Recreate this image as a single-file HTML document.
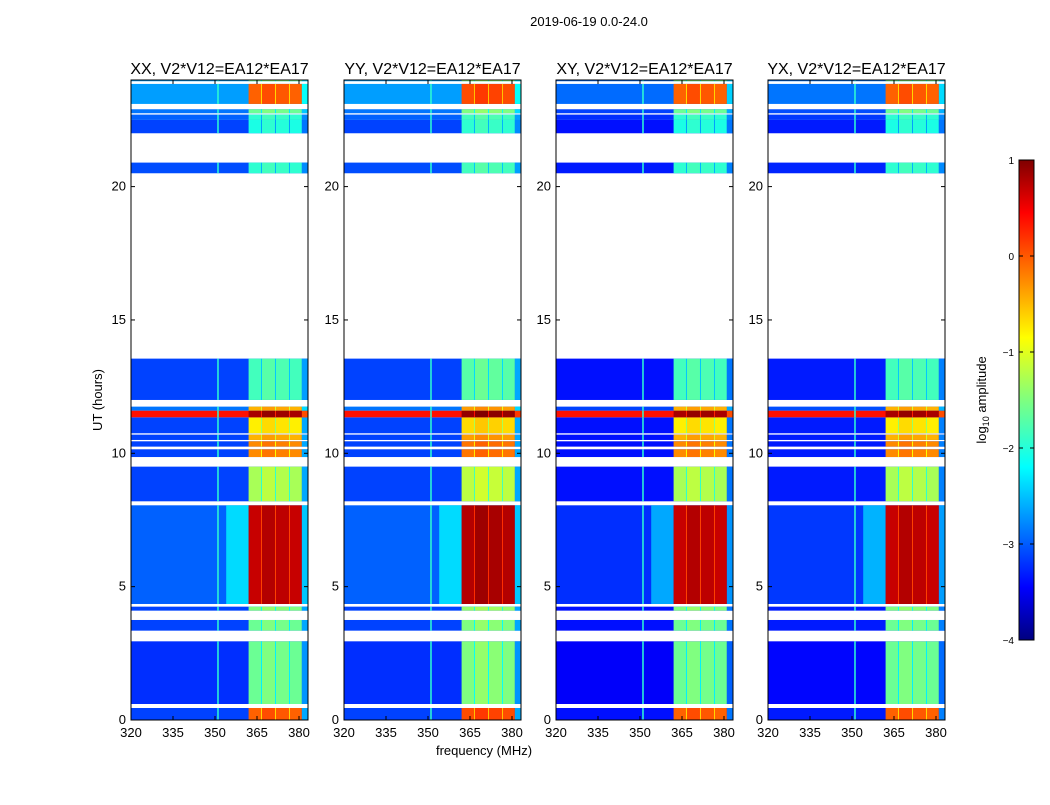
<!DOCTYPE html>
<html><head><meta charset="utf-8"><style>
body{margin:0;background:#fff;font-family:"Liberation Sans",sans-serif}
</style></head><body>
<svg id="fig" width="1050" height="800" xmlns="http://www.w3.org/2000/svg">
<defs>
<linearGradient id="jet" x1="0" y1="1" x2="0" y2="0">
<stop offset="0" stop-color="#00007f"/><stop offset="0.11" stop-color="#0000ff"/>
<stop offset="0.36" stop-color="#00ffff"/><stop offset="0.5" stop-color="#7fff7f"/>
<stop offset="0.63" stop-color="#ffff00"/><stop offset="0.89" stop-color="#ff0000"/>
<stop offset="1" stop-color="#7f0000"/></linearGradient>
</defs>
<text x="589" y="26" font-size="13" text-anchor="middle">2019-06-19 0.0-24.0</text>
<text transform="translate(102,400) rotate(-90)" font-size="13" text-anchor="middle">UT (hours)</text>
<text x="484" y="755" font-size="13" text-anchor="middle">frequency (MHz)</text>
<g id="panels"></g>
<g>
<rect x="1019" y="160" width="15" height="480" fill="url(#jet)" stroke="#000" stroke-width="1"/>
<g id="cbt"></g>
<text transform="translate(986,400) rotate(-90)" font-size="13" text-anchor="middle">log<tspan font-size="9" dy="3">10</tspan><tspan dy="-3"> amplitude</tspan></text>
</g>
</svg>
<script>
const panelTitles=["XX, V2*V12=EA12*EA17","YY, V2*V12=EA12*EA17","XY, V2*V12=EA12*EA17","YX, V2*V12=EA12*EA17"];
const panelX=[131,344,556,768];
const panelBgOffset=[0,0,-0.25,-0.2];
const panelHotOffset=[0,0.1,0,0];
// segments: start hour, end hour, background log amp, hot-band log amp
const segStart=[0,0.6,3.35,4.1,4.35,8.2,9.86,10.25,10.5,10.75,11.35,11.6,12.0,20.5,22.0,22.5,22.75,23.1,23.95];
const segEnd  =[0.45,2.95,3.75,4.25,8.05,9.5,10.15,10.45,10.7,11.35,11.6,11.75,13.55,20.9,22.5,22.7,22.9,23.85,24.0];
const segBg   =[-3.05,-3.15,-3.05,-3.05,-2.9,-3.05,-3.05,-3.05,-3.05,-3.05,0.3,-2.8,-3.05,-3.0,-3.05,-2.9,-2.8,-2.6,-2.6];
const segHot  =[-0.1,-1.6,-1.6,-1.5,0.65,-1.3,-0.3,-0.3,-0.5,-0.8,0.8,-0.5,-1.8,-1.9,-2.0,-1.9,-1.6,-0.1,-1.5];
const subStart=[362,366.6,371.6,376.6];
const subEnd=[366.6,371.6,376.6,381];
const subVar=[0,0.1,0.05,0];
const xTicks=[320,335,350,365,380];
const yTicks=[0,5,10,15,20];
const cbTicks=[1,0,-1,-2,-3,-4];
const NS="http://www.w3.org/2000/svg";
const Y0=720,PH=26.67,PW=177,FX=2.8,FMIN=320,FMAX=320+PW/FX;
function jet(v){let t=(v+4)/5;t=Math.max(0,Math.min(1,t));
 const r=Math.max(0,Math.min(1,1.5-Math.abs(4*t-3))),g=Math.max(0,Math.min(1,1.5-Math.abs(4*t-2))),b=Math.max(0,Math.min(1,1.5-Math.abs(4*t-1)));
 return `rgb(${Math.round(r*255)},${Math.round(g*255)},${Math.round(b*255)})`;}
function el(tag,attrs,parent){const e=document.createElementNS(NS,tag);for(const k in attrs)e.setAttribute(k,attrs[k]);parent.appendChild(e);return e;}
const root=document.getElementById('panels');
panelX.forEach((px,pi)=>{
 const g=el('g',{},root);
 
 
 const xs=f=>px+(f-FMIN)*FX, ys=h=>Y0-h*PH;
 const hm=el('g',{},g);
 
 
 for(let i=0;i<segStart.length;i++){
  const y1=ys(segEnd[i]),h=ys(segStart[i])-y1;
  const bg=segBg[i]+(segBg[i]<-1?panelBgOffset[pi]:0),hot=segHot[i]+panelHotOffset[pi];
  const r=el('rect',{x:px,y:y1,width:PW,height:h,fill:jet(bg)},hm);
  
  
  if(hot>0 && bg<-1){
   const fr=el('rect',{x:xs(354),y:y1,width:xs(362)-xs(354),height:h,fill:jet(bg+0.6)},hm);
   
   
  }
  const vl=el('rect',{x:xs(350.8),y:y1,width:1.5,height:h,fill:jet(-1.9)},hm);
  
  
  const rs=el('rect',{x:xs(381),y:y1,width:px+PW-xs(381),height:h,fill:jet(Math.min(bg+0.5,hot-0.8))},hm);
  
  
  for(let s=0;s<subStart.length;s++){
   const c=el('rect',{x:xs(subStart[s]),y:y1,width:xs(subEnd[s])-xs(subStart[s]),height:h,fill:jet(hot+subVar[s])},hm);
   
   
   if(s>0){const d=el('rect',{x:xs(subStart[s])-0.5,y:y1,width:1,height:h,fill:jet(hot-0.6)},hm);}
  }
 }
 const fr=el('rect',{x:px,y:80,width:PW,height:640,fill:'none',stroke:'#000','stroke-width':1},g);
 
 
 const t=el('text',{x:px+PW/2,y:74,'font-size':16,'text-anchor':'middle'},g);t.textContent=panelTitles[pi];
 
 
 xTicks.forEach(v=>{const x=xs(v);
  el('line',{x1:x,y1:720,x2:x,y2:716,stroke:'#000'},g);el('line',{x1:x,y1:80,x2:x,y2:84,stroke:'#000'},g);
  const l=el('text',{x:x,y:737,'font-size':13,'text-anchor':'middle'},g);l.textContent=v;
  
  });
 yTicks.forEach(v=>{const y=ys(v);
  el('line',{x1:px,y1:y,x2:px+4,y2:y,stroke:'#000'},g);el('line',{x1:px+PW,y1:y,x2:px+PW-4,y2:y,stroke:'#000'},g);
  const l=el('text',{x:px-5,y:y+4,'font-size':13,'text-anchor':'end'},g);l.textContent=v;
  
  });
});
const cb=document.getElementById('cbt');
cbTicks.forEach(v=>{const y=160+(1-v)*96;
 el('line',{x1:1019,y1:y,x2:1023,y2:y,stroke:'#000'},cb);el('line',{x1:1034,y1:y,x2:1030,y2:y,stroke:'#000'},cb);
 const l=el('text',{x:1014,y:y+4,'font-size':10,'text-anchor':'end'},cb);l.textContent=(v<0?'\u2212'+(-v):v);
 
 });
</script>
</body></html>
